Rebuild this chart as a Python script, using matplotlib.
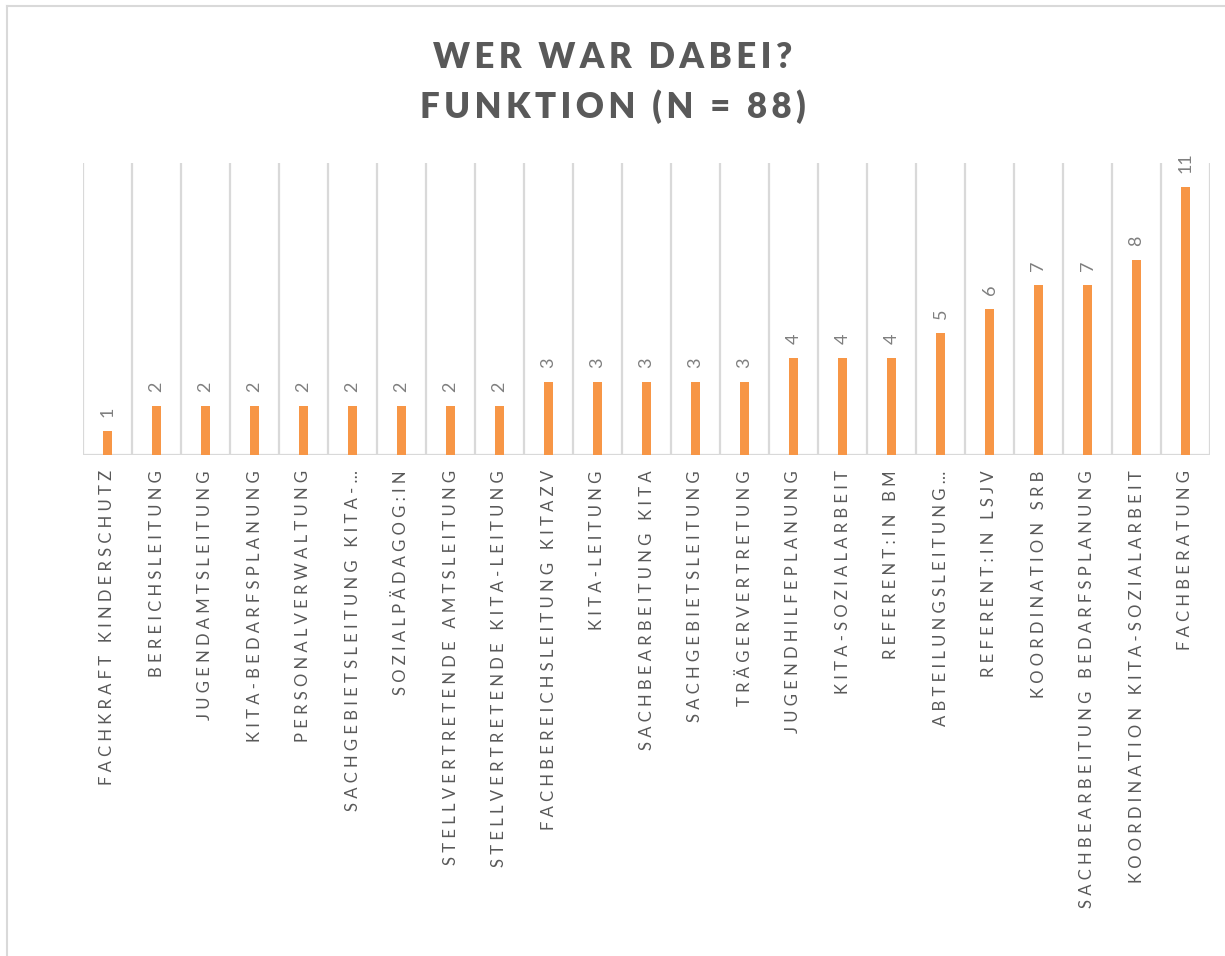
import matplotlib
matplotlib.use("Agg")
import matplotlib.pyplot as plt
from matplotlib.lines import Line2D

categories = [
    "FACHKRAFT KINDERSCHUTZ", "BEREICHSLEITUNG", "JUGENDAMTSLEITUNG",
    "KITA-BEDARFSPLANUNG", "PERSONALVERWALTUNG", "SACHGEBIETSLEITUNG KITA-…",
    "SOZIALPÄDAGOG:IN", "STELLVERTRETENDE AMTSLEITUNG",
    "STELLVERTRETENDE KITA-LEITUNG", "FACHBEREICHSLEITUNG KITAZV",
    "KITA-LEITUNG", "SACHBEARBEITUNG KITA", "SACHGEBIETSLEITUNG",
    "TRÄGERVERTRETUNG", "JUGENDHILFEPLANUNG", "KITA-SOZIALARBEIT",
    "REFERENT:IN BM", "ABTEILUNGSLEITUNG…", "REFERENT:IN LSJV",
    "KOORDINATION SRB", "SACHBEARBEITUNG BEDARFSPLANUNG",
    "KOORDINATION KITA-SOZIALARBEIT", "FACHBERATUNG",
]
counts = [1, 2, 2, 2, 2, 2, 2, 2, 2, 3, 3, 3, 3, 3, 4, 4, 4, 5, 6, 7, 7, 8, 11]
title_lines = ["WER WAR DABEI?", "FUNKTION (N = 88)"]

FONT = ["Lato", "DejaVu Sans"]
ORANGE = "#F79646"
GRID = "#D9D9D9"
TEXT = "#595959"


def spaced(s, sep="\u2009"):
    # mimic Excel's character spacing
    return sep.join(s)


fig = plt.figure(figsize=(12.25, 9.56), dpi=100)
ax = fig.add_axes([83 / 1225, 1 - 455 / 956, (1210 - 83) / 1225, (455 - 163) / 956])

x = list(range(len(categories)))
ax.bar(x, counts, width=0.19, color=ORANGE, zorder=3)

for i in range(len(categories) + 1):
    ax.plot([i - 0.5, i - 0.5], [0, 12], color=GRID, lw=1.6, zorder=1)
ax.axhline(0, color=GRID, lw=1.6, zorder=2)

for i, v in enumerate(counts):
    ax.annotate(str(v), (i, v), xytext=(0, 10), textcoords="offset points",
                rotation=90, ha="center", va="bottom", fontsize=13,
                color="#7F7F7F", family=FONT)

ax.set_xlim(-0.5, len(categories) - 0.5)
ax.set_ylim(0, 12)
ax.set_yticks([])
ax.set_xticks(x)
ax.set_xticklabels([spaced(c, "\u2009\u2009") for c in categories], rotation=90,
                   fontsize=12, color=TEXT, family=FONT)
ax.tick_params(axis="x", length=0, pad=11)
for sp in ax.spines.values():
    sp.set_visible(False)

fig.text(0.5, 1 - 68 / 956, spaced(title_lines[0]), ha="center",
         va="baseline", fontsize=25, fontweight="heavy", color=TEXT, family=FONT)
fig.text(0.5, 1 - 118 / 956, spaced(title_lines[1]), ha="center",
         va="baseline", fontsize=25, fontweight="heavy", color=TEXT, family=FONT)

# chart area border (left and top edge visible)
fig.add_artist(Line2D([7 / 1225, 7 / 1225], [0, 1 - 6 / 956], color=GRID, lw=1.5))
fig.add_artist(Line2D([7 / 1225, 1], [1 - 6 / 956, 1 - 6 / 956], color=GRID, lw=1.5))

fig.savefig("out.png", dpi=100, facecolor="white")
